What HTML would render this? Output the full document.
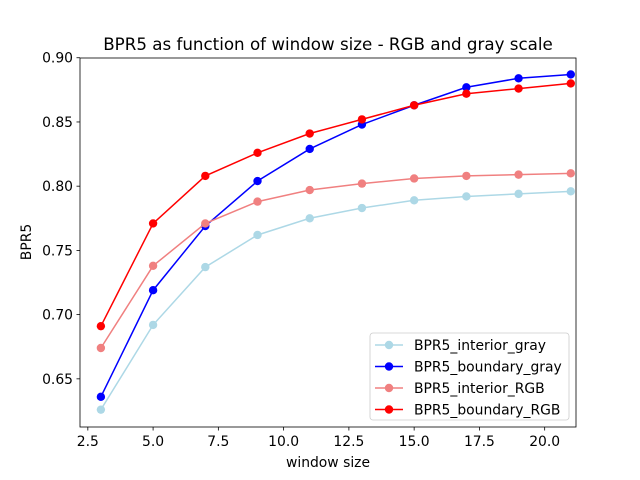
<!DOCTYPE html>
<html><head><meta charset="utf-8"><style>
body{margin:0;background:#fff;}
svg{display:block;font-family:"DejaVu Sans","Liberation Sans",sans-serif;}
</style></head><body>
<svg id="chart" width="640" height="480" viewBox="0 0 640 480">
<rect width="640" height="480" fill="#fff"/>
<text x="328" y="50" text-anchor="middle" font-size="16.7">BPR5 as function of window size - RGB and gray scale</text>
<g id="grid"></g>
<g id="series"></g>
<rect x="80" y="58" width="496" height="369" fill="none" stroke="#000" stroke-width="0.8"/>
<text x="328" y="467" text-anchor="middle" font-size="13.9">window size</text>
<text x="31" y="242" text-anchor="middle" font-size="13.9" transform="rotate(-90 31 242)">BPR5</text>
<g id="legend"></g>
</svg>
<script>
const xs = [3,5,7,9,11,13,15,17,19,21];
const interiorGray = [0.626,0.692,0.737,0.762,0.775,0.783,0.789,0.792,0.794,0.796];
const boundaryGray = [0.636,0.719,0.769,0.804,0.829,0.848,0.863,0.877,0.884,0.887];
const interiorRGB = [0.674,0.738,0.771,0.788,0.797,0.802,0.806,0.808,0.809,0.810];
const boundaryRGB = [0.691,0.771,0.808,0.826,0.841,0.852,0.863,0.872,0.876,0.880];
const xTicks = [2.5,5.0,7.5,10.0,12.5,15.0,17.5,20.0];
const yTicks = [0.65,0.70,0.75,0.80,0.85,0.90];
const seriesNames = ["BPR5_interior_gray","BPR5_boundary_gray","BPR5_interior_RGB","BPR5_boundary_RGB"];
const seriesColors = ["#add8e6","#0000ff","#f08080","#ff0000"];

const NS="http://www.w3.org/2000/svg";
const X0=80,X1=576,Y0=58,Y1=427, xmin=2.2,xmax=21.2, ymin=0.6125,ymax=0.8998;
const sx=v=>X0+(v-xmin)/(xmax-xmin)*(X1-X0);
const sy=v=>Y1-(v-ymin)/(ymax-ymin)*(Y1-Y0);
function mk(t,a,p){const e=document.createElementNS(NS,t);for(const k in a)e.setAttribute(k,a[k]);p.appendChild(e);return e;}
const grid=document.getElementById('grid');
xTicks.forEach(t=>{
  const x=sx(t);
  const l=mk('line',{x1:x,x2:x,y1:Y1,y2:Y1+3.5,stroke:'#000','stroke-width':0.8},grid);
  
  
  const tx=mk('text',{x:x,y:Y1+19,'text-anchor':'middle','font-size':13.9},grid);
  tx.textContent=t.toFixed(1);
  
  
});
yTicks.forEach(t=>{
  const y=sy(t);
  const l=mk('line',{x1:X0-3.5,x2:X0,y1:y,y2:y,stroke:'#000','stroke-width':0.8},grid);
  
  
  const tx=mk('text',{x:X0-7,y:y+5,'text-anchor':'end','font-size':13.9},grid);
  tx.textContent=t.toFixed(2);
  
  
});
const ser=document.getElementById('series');
[interiorGray,boundaryGray,interiorRGB,boundaryRGB].forEach((d,i)=>{
  const g=mk('g',{},ser);
  
  
  mk('polyline',{points:d.map((v,j)=>sx(xs[j])+','+sy(v)).join(' '),fill:'none',stroke:seriesColors[i],'stroke-width':1.5},g);
  d.forEach((v,j)=>{
    const c=mk('circle',{cx:sx(xs[j]),cy:sy(v),r:4.2,fill:seriesColors[i]},g);
    
    
  });
});
const lg=document.getElementById('legend');
mk('rect',{x:370,y:333,width:199,height:87,rx:3,fill:'#fff','fill-opacity':0.8,stroke:'#ccc','stroke-width':0.8},lg);
seriesNames.forEach((n,i)=>{
  const y=345+i*21.5;
  const e=mk('g',{},lg);
  
  
  mk('line',{x1:375,x2:403,y1:y,y2:y,stroke:seriesColors[i],'stroke-width':1.5},e);
  mk('circle',{cx:389,cy:y,r:4.2,fill:seriesColors[i]},e);
  const t=mk('text',{x:414,y:y+5,'font-size':13.9},e);
  t.textContent=n;
});
</script>
</body></html>
